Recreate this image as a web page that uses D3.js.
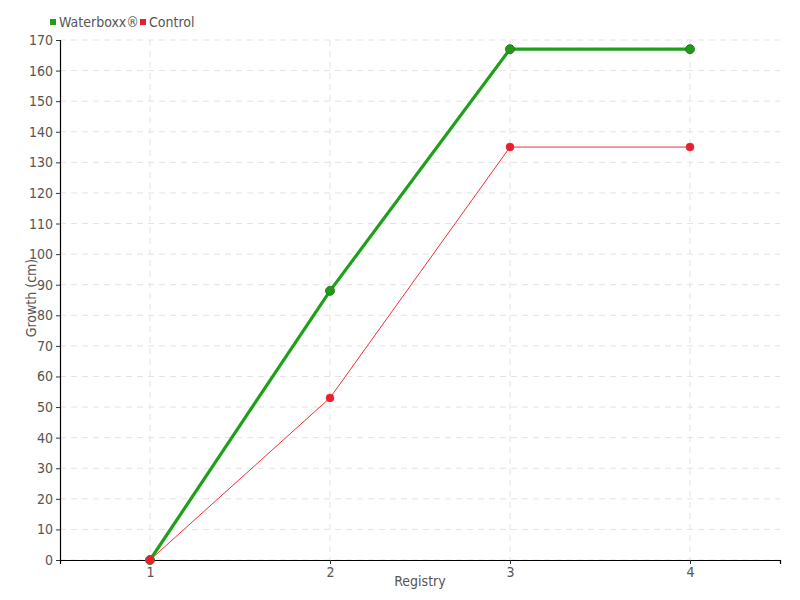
<!DOCTYPE html>
<html><head><meta charset="utf-8">
<script src="https://cdn.jsdelivr.net/npm/d3@7"></script>
<style>
body{margin:0;background:#fff;}
text{font-family:"DejaVu Sans Condensed","DejaVu Sans",sans-serif;font-stretch:condensed;fill:#555;}
</style></head><body>
<svg id="c" width="800" height="600"></svg>
<script>
const registries = [1, 2, 3, 4];
const waterboxx = [0, 88, 167, 167];
const control = [0, 53, 135, 135];
const yTicks = d3.range(0, 171, 10);

const svg = d3.select("#c");
const m = {l:60, r:20, t:40, b:40};
const W = 800, H = 600;
const x = d3.scaleLinear().domain([0.5, 4.5]).range([m.l, W - m.r]);
const y = d3.scaleLinear().domain([0, 170]).range([H - m.b, m.t]);

// grid
const g = svg.append("g");
g.selectAll(".hg").data(yTicks).join("line")
  .attr("x1", m.l).attr("x2", W - m.r)
  .attr("y1", d => y(d)).attr("y2", d => y(d))
  .attr("stroke", "#e3e3e3").attr("stroke-dasharray", "6,5");
g.selectAll(".vg").data(registries).join("line")
  .attr("y1", m.t).attr("y2", H - m.b)
  .attr("x1", d => x(d)).attr("x2", d => x(d))
  .attr("stroke", "#e3e3e3").attr("stroke-dasharray", "6,5");

// axes
const ya = svg.append("g").attr("transform", `translate(${m.l},0)`)
  .call(d3.axisLeft(y).tickValues(yTicks).tickSize(4).tickPadding(3));
const xa = svg.append("g").attr("transform", `translate(0,${H - m.b})`)
  .call(d3.axisBottom(x).tickValues(registries).tickFormat(d3.format("d")).tickSize(4).tickPadding(3));
[ya, xa].forEach(a => {
  a.select(".domain").attr("stroke", "#000").attr("stroke-width", 1.2);
  a.selectAll(".tick line").attr("stroke", "#333");
  a.selectAll("text").style("font-size", "14px").attr("fill", "#555");
});

svg.append("text").attr("x", 420).attr("y", 586).attr("text-anchor", "middle")
  .style("font-size", "14px").text("Registry");
svg.append("text").attr("transform", "translate(35,298) rotate(-90)").attr("text-anchor", "middle")
  .attr("x", 0).attr("y", 0).style("font-size", "14px").text("Growth (cm)")
  .attr("transform", "translate(36,298) rotate(-90)");

const line = d3.line().x((d, i) => x(registries[i])).y(d => y(d));

// control
svg.append("path").datum(control).attr("d", line).attr("fill", "none")
  .attr("stroke", "#f0303c").attr("stroke-width", 1);
// waterboxx
svg.append("path").datum(waterboxx).attr("d", line).attr("fill", "none")
  .attr("stroke", "#1fa01a").attr("stroke-width", 3.2);

svg.selectAll(".wp").data(waterboxx).join("circle")
  .attr("cx", (d, i) => x(registries[i])).attr("cy", d => y(d)).attr("r", 4.5)
  .attr("fill", "#1f9a18").attr("stroke", "#2d7a22").attr("stroke-width", 1);
svg.selectAll(".cp").data(control).join("circle")
  .attr("cx", (d, i) => x(registries[i])).attr("cy", d => y(d)).attr("r", 4)
  .attr("fill", "#ee1c2c").attr("stroke", "#d8303a").attr("stroke-width", 0.5);

// legend
const leg = [{name:"Waterboxx®", c:"#1fa01a", x:50}, {name:"Control", c:"#ee1c2c", x:140}];
const lg = svg.selectAll(".lg").data(leg).join("g").attr("transform", d => `translate(${d.x},0)`);
lg.append("rect").attr("x", 0).attr("y", 19).attr("width", 6).attr("height", 6).attr("fill", d => d.c);
lg.append("text").attr("x", 9).attr("y", 27).style("font-size", "14px").text(d => d.name);
</script>
</body></html>
